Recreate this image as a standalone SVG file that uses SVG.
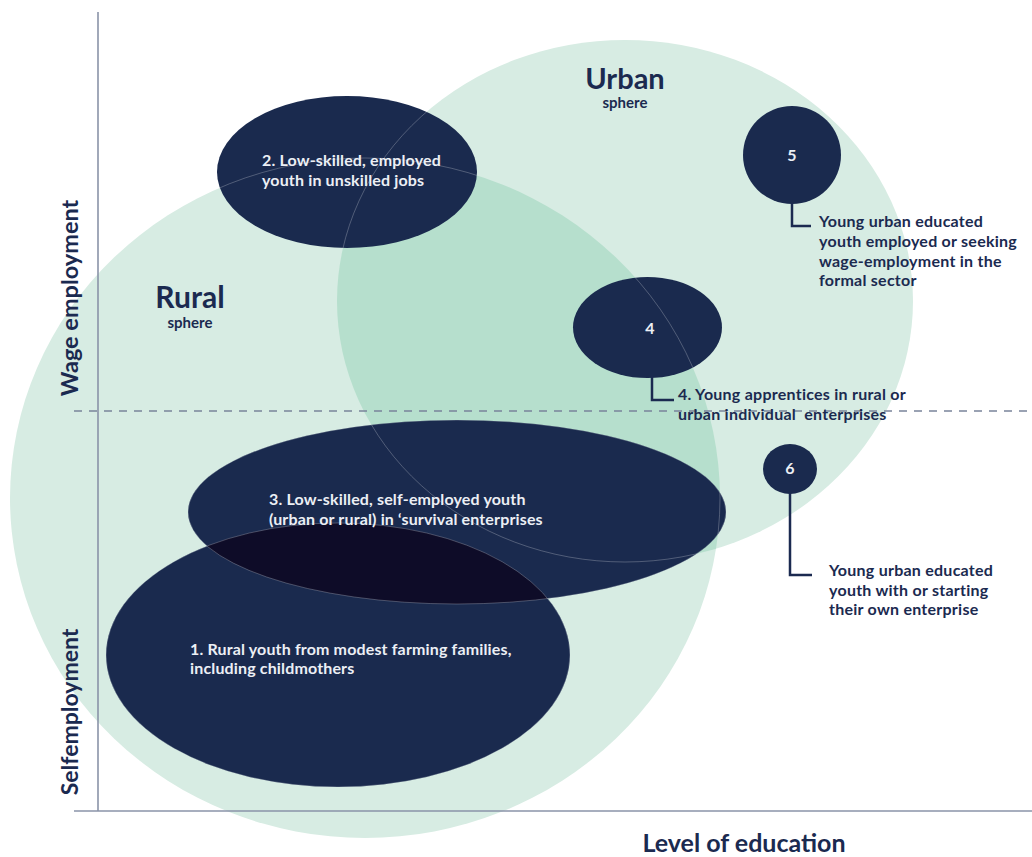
<svg xmlns="http://www.w3.org/2000/svg" width="1032" height="857" viewBox="0 0 1032 857">
<style>
.navy{fill:#1a2a4e}
.lbl{font-family:Lato,"Noto Sans",sans-serif;font-weight:700;font-size:16px;letter-spacing:0.25px;fill:#1b2a50}
.in{font-family:Lato,"Noto Sans",sans-serif;font-weight:700;font-size:16px;letter-spacing:0.15px;fill:#eceff5}
.axis{stroke:#8a93a8;stroke-width:1.6;fill:none}
.call{stroke:#1b2a50;stroke-width:2.5;fill:none}
.hair{fill:none;stroke:#ffffff;stroke-opacity:0.35;stroke-width:0.7}
.ttl{font-family:Lato,"Noto Sans",sans-serif;font-weight:700;fill:#1b2a50}
.pre{white-space:pre}
</style>
<defs>
<clipPath id="clipRural"><ellipse cx="365" cy="498" rx="355" ry="340"/></clipPath>
<clipPath id="clipE1"><ellipse cx="338" cy="655" rx="232" ry="132"/></clipPath>
<clipPath id="clipNavy">
<ellipse cx="347" cy="172" rx="130" ry="76"/>
<ellipse cx="647.5" cy="327.5" rx="74.5" ry="50.5"/>
<ellipse cx="457" cy="512" rx="269" ry="92"/>
<ellipse cx="338" cy="655" rx="232" ry="132"/>
</clipPath>
</defs>
<rect width="1032" height="857" fill="#ffffff"/>
<g id="spheres">
<ellipse id="rural-sphere" cx="365" cy="498" rx="355" ry="340" fill="#d7ece3"/>
<ellipse id="urban-sphere" cx="625" cy="301" rx="288" ry="261" fill="#d7ece3"/>
<ellipse cx="625" cy="301" rx="288" ry="261" fill="#b6dfcd" clip-path="url(#clipRural)"/>
</g>
<g id="axes">
<line class="axis" x1="98" y1="12" x2="98" y2="811"/>
<line class="axis" x1="74" y1="811" x2="1032" y2="811"/>
<line x1="74" y1="411" x2="1032" y2="411" stroke="#7a849a" stroke-width="1.5" stroke-dasharray="8,7"/>
</g>
<g id="node2"><ellipse class="navy" cx="347" cy="172" rx="130" ry="76"/></g>
<g id="node4"><ellipse class="navy" cx="647.5" cy="327.5" rx="74.5" ry="50.5"/></g>
<g id="node5"><circle class="navy" cx="792" cy="155" r="49"/></g>
<g id="node6"><ellipse class="navy" cx="790" cy="469" rx="27" ry="25"/></g>
<g id="node3"><ellipse class="navy" cx="457" cy="512" rx="269" ry="92"/></g>
<g id="node1"><ellipse class="navy" cx="338" cy="655" rx="232" ry="132"/>
<ellipse cx="457" cy="512" rx="269" ry="92" fill="#0e0c28" clip-path="url(#clipE1)"/></g>
<g id="hairlines" clip-path="url(#clipNavy)">
<ellipse class="hair" cx="625" cy="301" rx="288" ry="261"/>
<ellipse class="hair" cx="365" cy="498" rx="355" ry="340"/>
<ellipse class="hair" cx="338" cy="655" rx="232" ry="132"/>
<ellipse class="hair" cx="457" cy="512" rx="269" ry="92"/>
</g>
<g id="connectors">
<polyline class="call" points="652,376 652,400 674,400"/>
<polyline class="call" points="792,203 792,226 811,226"/>
<polyline class="call" points="790,493 790,575 812,575"/>
</g>
<g id="texts">
<text class="ttl" x="625" y="89" font-size="29" text-anchor="middle">Urban</text>
<text class="ttl" x="625" y="108" font-size="15" text-anchor="middle">sphere</text>
<text class="ttl" x="190" y="308" font-size="30" text-anchor="middle">Rural</text>
<text class="ttl" x="190" y="328" font-size="15" text-anchor="middle">sphere</text>
<text class="in" x="262" y="166">2. Low-skilled, employed</text>
<text class="in" x="262" y="186">youth in unskilled jobs</text>
<text class="in" x="650" y="334" text-anchor="middle">4</text>
<text class="in" x="792" y="161" text-anchor="middle">5</text>
<text class="in" x="790" y="474" text-anchor="middle">6</text>
<text class="in" x="269" y="505">3. Low-skilled, self-employed youth</text>
<text class="in" x="269" y="525">(urban or rural) in ‘survival enterprises</text>
<text class="in" x="190" y="655">1. Rural youth from modest farming families,</text>
<text class="in" x="190" y="674">including childmothers</text>
<text class="lbl" x="678" y="400">4. Young apprentices in rural or</text>
<text class="lbl pre" x="678" y="420" xml:space="preserve">urban individual  enterprises</text>
<text class="lbl" x="819" y="227">Young urban educated</text>
<text class="lbl" x="819" y="247">youth employed or seeking</text>
<text class="lbl" x="819" y="267">wage-employment in the</text>
<text class="lbl" x="819" y="286">formal sector</text>
<text class="lbl" x="829" y="576">Young urban educated</text>
<text class="lbl" x="829" y="596">youth with or starting</text>
<text class="lbl" x="829" y="615">their own enterprise</text>
<text class="ttl" font-size="23.5" text-anchor="middle" transform="translate(78,298) rotate(-90)">Wage employment</text>
<text class="ttl" font-size="23" text-anchor="middle" transform="translate(78,712) rotate(-90)">Selfemployment</text>
<text class="ttl" x="744" y="852" font-size="25" text-anchor="middle">Level of education</text>
</g>
</svg>
